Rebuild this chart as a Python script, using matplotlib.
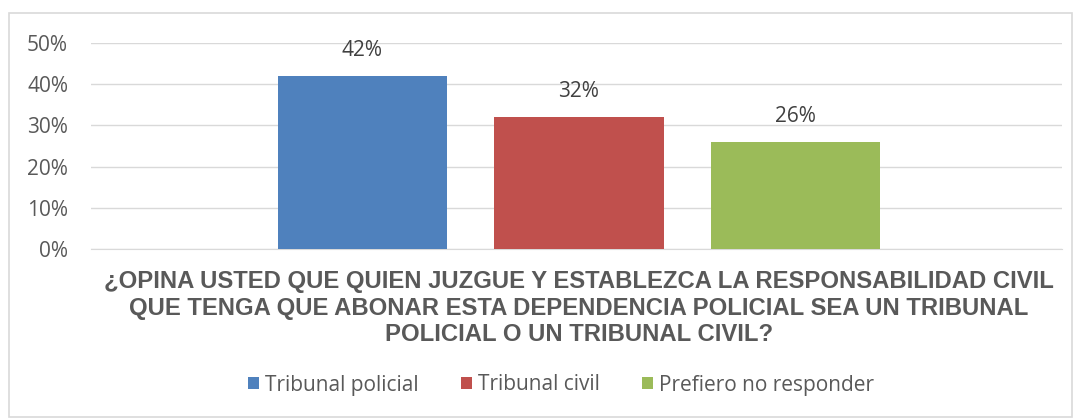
import matplotlib.pyplot as plt
from matplotlib.patches import Rectangle
import numpy as np

# datos
categorias = ["Tribunal policial", "Tribunal civil", "Prefiero no responder"]
valores = [0.42, 0.32, 0.26]
colores = ["#4f81bd", "#c0504d", "#9bbb59"]
lineas_titulo = ["¿OPINA USTED QUE QUIEN JUZGUE Y ESTABLEZCA LA RESPONSABILIDAD CIVIL",
                 "QUE TENGA QUE ABONAR ESTA DEPENDENCIA POLICIAL SEA UN TRIBUNAL",
                 "POLICIAL O UN TRIBUNAL CIVIL?"]
ticks_y = [0, 0.1, 0.2, 0.3, 0.4, 0.5]

W, H = 1081, 418
gris = "#595959"
plt.rcParams['font.family'] = ['Liberation Sans', 'DejaVu Sans']

fig = plt.figure(figsize=(W / 100, H / 100), dpi=100)
fig.patches.append(Rectangle((9 / W, 1 / H), 1063 / W, 404 / H,
                             transform=fig.transFigure, fill=False,
                             edgecolor="#d9d9d9", linewidth=1.2))
ax = fig.add_axes([91 / W, 1 - 249 / H, 971 / W, 206 / H])

x = np.arange(len(categorias))
barras = ax.bar(x, valores, width=0.785, color=colores, label=categorias,
                linewidth=0, zorder=3)
for xi, v in zip(x, valores):
    ax.annotate(f"{v:.0%}", (xi, v), xytext=(0, 18.5), textcoords="offset points",
                ha="center", va="center", fontsize=15, color="#404040",
                family="Open Sans")

ax.set_xlim(-1.254, 3.231)
ax.set_ylim(0, 0.5)
ax.set_yticks(ticks_y)
ax.set_yticklabels([f"{t:.0%}" for t in ticks_y], fontsize=15, color=gris,
                   family="Open Sans")
ax.set_xticks([])
ax.tick_params(axis="y", length=0, pad=16.5)
ax.grid(axis="y", color="#d9d9d9", linewidth=1, zorder=0)
for s in ["top", "right", "left"]:
    ax.spines[s].set_visible(False)
ax.spines["bottom"].set_color("#d9d9d9")

# titulo del eje x, una linea por texto
textos = []
for linea, yb in zip(lineas_titulo, [288, 315, 341]):
    textos.append(fig.text(579 / W, 1 - yb / H, linea, ha="center", va="baseline",
                           fontsize=16, fontweight="bold", color=gris))
fig.canvas.draw()
ancho = textos[0].get_window_extent().width
for t in textos:
    t.set_fontsize(16 * 953 / ancho)

fig.legend(handles=barras, labels=categorias, loc="center",
           bbox_to_anchor=(561 / W, 1 - 385 / H), ncol=3, frameon=False,
           prop={"family": "Open Sans", "size": 15}, labelcolor=gris,
           handlelength=0.55, handleheight=0.55, handletextpad=0.3, columnspacing=2.0)

fig.savefig("out.png", dpi=100)
